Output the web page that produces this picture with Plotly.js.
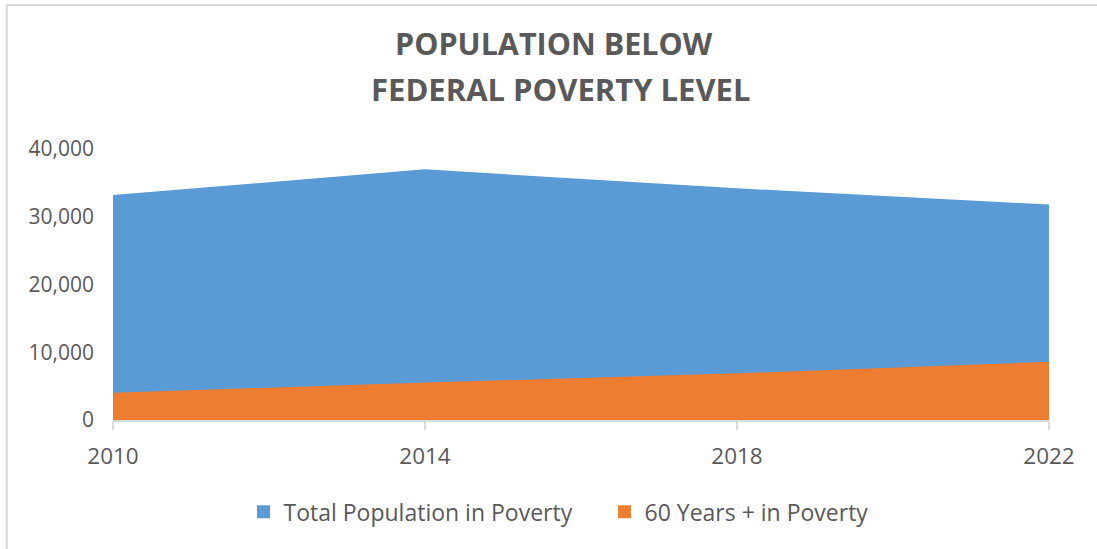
<!DOCTYPE html>
<html>
<head>
<meta charset="utf-8">
<script src="https://cdn.plot.ly/plotly-3.0.1.min.js"></script>
<style>html,body{margin:0;padding:0;background:#fff;}#chart{width:1097px;height:549px;}</style>
</head>
<body>
<div id="chart"></div>
<script>
const years = [2010, 2014, 2018, 2022];
const totalPoverty = [33200, 37000, 34200, 31800];
const seniorPoverty = [4030, 5520, 6890, 8600];
const seriesNames = ["Total Population in Poverty", "60 Years + in Poverty"];
const seriesColors = ["#5B9BD5", "#ED7D31"];
const yTicks = [0, 10000, 20000, 30000, 40000];
const yTickText = ["0", "10,000", "20,000", "30,000", "40,000"];
const titleLines = ["POPULATION BELOW", "FEDERAL POVERTY LEVEL"];

const txt = "#595959";
const fontFam = "'Open Sans', 'Noto Sans', sans-serif";

const traces = [
  {x: years, y: totalPoverty, name: seriesNames[0], type: "scatter", mode: "lines", showlegend: false,
   fill: "tozeroy", fillcolor: seriesColors[0], line: {color: seriesColors[0], width: 0}},
  {x: years, y: seniorPoverty, name: seriesNames[1], type: "scatter", mode: "lines", showlegend: false,
   fill: "tozeroy", fillcolor: seriesColors[1], line: {color: seriesColors[1], width: 0}},
  // legend entries (square swatches like the reference)
  {x: [null], y: [null], name: seriesNames[0], type: "scatter", mode: "markers",
   marker: {symbol: "square", size: 13, color: seriesColors[0]}},
  {x: [null], y: [null], name: seriesNames[1], type: "scatter", mode: "markers",
   marker: {symbol: "square", size: 13, color: seriesColors[1]}}
];

const layout = {
  width: 1097, height: 549,
  margin: {l: 113, r: 48, t: 149, b: 129},
  paper_bgcolor: "#fff", plot_bgcolor: "#fff",
  font: {family: fontFam, color: txt},
  title: {text: ""},
  annotations: [
    {text: "<b>" + titleLines[0] + "</b>", xref: "paper", yref: "paper", x: 0.4712, y: 1.391,
     xanchor: "center", yanchor: "middle", showarrow: false, font: {size: 30.5, color: txt, family: fontFam}},
    {text: "<b>" + titleLines[1] + "</b>", xref: "paper", yref: "paper", x: 0.4776, y: 1.2214,
     xanchor: "center", yanchor: "middle", showarrow: false, font: {size: 31, color: txt, family: fontFam}}
  ],
  xaxis: {range: [2010, 2022], tickvals: years, ticktext: years.map(String),
          showgrid: false, zeroline: false, showline: true, linecolor: "#d9d9d9", linewidth: 2,
          ticks: "outside", ticklen: 8, tickcolor: "#d9d9d9", tickwidth: 2, ticklabelstandoff: 7,
          tickfont: {size: 22.5, color: txt}, fixedrange: true},
  yaxis: {range: [0, 40000], tickvals: yTicks, ticktext: yTickText,
          showgrid: true, gridcolor: "#d9d9d9", gridwidth: 1.5, zeroline: false, showline: false,
          ticks: "", tickfont: {size: 21, color: txt}, ticklabelstandoff: 18, fixedrange: true},
  showlegend: true,
  legend: {orientation: "h", x: 0.5251, xanchor: "center", y: -0.339, yanchor: "middle",
           font: {size: 23, color: txt}, itemwidth: 30, entrywidth: 316, traceorder: "normal",
           itemclick: false, itemdoubleclick: false},
  shapes: [
    {type: "rect", xref: "paper", yref: "paper", x0: -0.1135, x1: 1.06, y0: -0.49, y1: 1.5314,
     line: {color: "#d9d9d9", width: 2}, fillcolor: "rgba(0,0,0,0)", layer: "below"}
  ]
};

Plotly.newPlot("chart", traces, layout, {displayModeBar: false, staticPlot: true});
</script>
</body>
</html>
